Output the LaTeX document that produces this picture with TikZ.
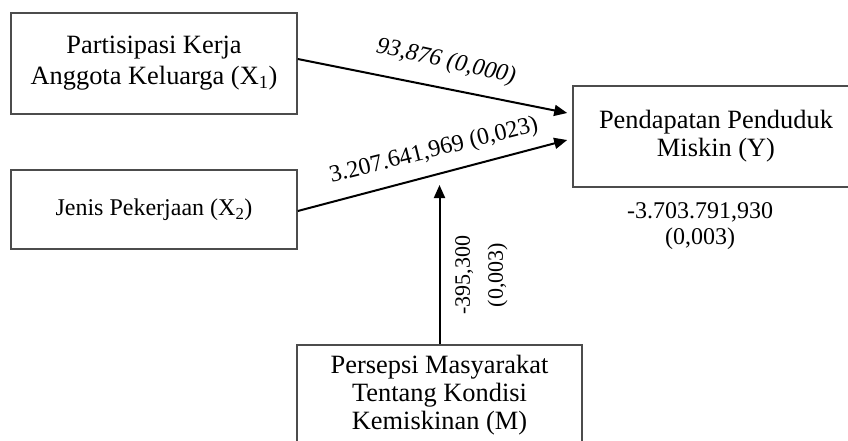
\documentclass[tikz,border=0pt]{standalone}
\usepackage{fontspec}
\setmainfont{Liberation Serif}
\usetikzlibrary{arrows.meta}
\begin{document}
\begin{tikzpicture}[x=1pt,y=-1pt,
  box/.style={draw=black!70, line width=1.6pt, rectangle, align=center, inner sep=0pt,
    font=\fontsize{26.4}{31}\selectfont},
  conn/.style={line width=2pt, -{Triangle[length=13pt,width=11pt]}},
  lbl/.style={inner sep=0pt, font=\fontsize{24}{28}\selectfont}]
\clip (0,0) rectangle (848,441);
\node[box, minimum width=286pt, minimum height=101pt] (X1) at (154,63.5)
  {Partisipasi Kerja\\Anggota Keluarga (X\textsubscript{1})};
\node[box, minimum width=286pt, minimum height=79pt, font=\fontsize{24}{28}\selectfont] (X2) at (154,209.5)
  {Jenis Pekerjaan (X\textsubscript{2})};
\node[box, minimum width=286pt, minimum height=101pt, font=\fontsize{26.4}{28}\selectfont] (Y) at (716,136.5)
  {Pendapatan Penduduk\\Miskin (Y)};
\node[box, minimum width=285pt, minimum height=100pt, font=\fontsize{26.4}{28}\selectfont] (M) at (439.5,395)
  {Persepsi Masyarakat\\Tentang Kondisi\\Kemiskinan (M)};
\coordinate (Mt) at (439.5,185);
\draw[conn] ([yshift=4.5pt]X1.east) -- ([xshift=-5pt,yshift=23.5pt]Y.west);
\draw[conn] ([yshift=-1.5pt]X2.east) -- ([xshift=-5pt,yshift=-3.5pt]Y.west);
\draw[conn] (M.north) -- (Mt);
\node[lbl, rotate=-12.7, font=\fontsize{24}{28}\selectfont\itshape] (l1) at (446,62) {93,876 (0,000)};
\node[lbl, rotate=14] (l2) at (434,151) {3.207.641,969 (0,023)};
\node[lbl, rotate=90, align=center, font=\fontsize{22}{33}\selectfont] (l3) at (481.5,275) {-395,300\\(0,003)};
\node[lbl, align=center, font=\fontsize{24}{26}\selectfont] (l4) at (700,226) {-3.703.791,930\\(0,003)};
\end{tikzpicture}
\end{document}
